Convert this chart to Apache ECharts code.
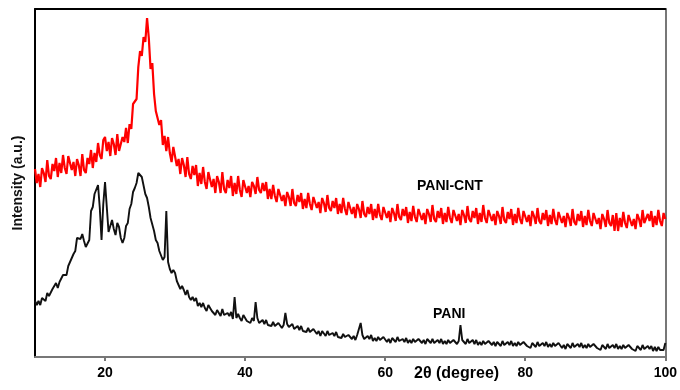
<!DOCTYPE html>
<html>
<head>
<meta charset="utf-8">
<script src="https://cdn.jsdelivr.net/npm/echarts@6/dist/echarts.min.js"></script>
<style>
  html, body { margin: 0; padding: 0; background: #fff; }
  #chart { width: 680px; height: 390px; }
</style>
</head>
<body>
<div id="chart"></div>
<script>
// scan grid: 2theta from 10 to 100 deg, 0.25 deg per sample
const startAngle = 10
const stepAngle = 0.25
const xTicks = [20, 40, 60, 80, 100]

// PANI-CNT (red), intensity a.u., one row = 2.5 deg
const paniCnt = [
  188, 174, 183, 170, 189, 184, 175, 197, 181, 178,
  193, 186, 199, 180, 194, 184, 202, 189, 183, 201,
  202, 187, 195, 181, 198, 192, 181, 203, 187, 184,
  199, 193, 207, 189, 204, 195, 214, 202, 198, 217,
  220, 206, 215, 201, 219, 213, 202, 223, 206, 204,
  220, 215, 229, 214, 233, 228, 253, 251, 258, 290,
  306, 301, 320, 315, 339, 319, 288, 294, 263, 246,
  248, 232, 237, 212, 221, 206, 220, 204, 195, 210,
  208, 191, 198, 183, 199, 192, 180, 200, 183, 178,
  191, 182, 192, 171, 184, 173, 190, 175, 168, 185,
  185, 170, 178, 164, 181, 175, 164, 185, 168, 164,
  177, 169, 181, 161, 174, 163, 181, 167, 160, 177,
  176, 164, 171, 160, 175, 171, 163, 180, 167, 164,
  174, 166, 175, 158, 168, 158, 172, 161, 155, 168,
  168, 156, 162, 151, 165, 160, 151, 168, 154, 151,
  162, 155, 164, 148, 158, 149, 164, 153, 147, 160,
  161, 149, 155, 144, 159, 154, 145, 162, 149, 146,
  156, 149, 159, 143, 153, 144, 159, 148, 142, 155,
  155, 143, 150, 139, 153, 148, 139, 156, 143, 140,
  150, 143, 153, 137, 148, 139, 153, 142, 137, 150,
  151, 139, 146, 135, 149, 144, 136, 153, 140, 137,
  148, 141, 150, 134, 145, 136, 151, 140, 135, 148,
  149, 137, 144, 133, 148, 143, 135, 152, 138, 135,
  146, 139, 149, 133, 144, 135, 150, 139, 134, 147,
  148, 136, 143, 132, 147, 142, 134, 151, 138, 135,
  146, 139, 149, 133, 144, 135, 152, 139, 134, 147,
  148, 136, 143, 132, 146, 141, 133, 150, 137, 134,
  145, 138, 148, 132, 143, 134, 149, 138, 133, 146,
  147, 135, 142, 131, 146, 141, 133, 149, 136, 133,
  144, 137, 147, 131, 142, 133, 148, 137, 132, 145,
  146, 134, 141, 130, 144, 139, 131, 148, 135, 132,
  143, 136, 146, 130, 141, 132, 147, 136, 131, 144,
  145, 133, 139, 128, 143, 138, 130, 147, 134, 131,
  142, 126, 144, 126, 139, 130, 145, 134, 129, 142,
  143, 131, 138, 128, 143, 138, 130, 147, 134, 132,
  143, 136, 146, 130, 141, 132, 147, 136, 131, 144,
  138
]

// PANI (black)
const pani = [
  56, 52, 56, 52, 59, 58, 56, 64, 61, 61,
  68, 67, 74, 69, 75, 74, 82, 81, 82, 91,
  95, 95, 103, 106, 119, 120, 118, 123, 116, 110,
  112, 117, 146, 150, 163, 165, 172, 149, 117, 153,
  175, 174, 125, 124, 137, 128, 122, 134, 130, 119,
  114, 119, 131, 134, 148, 153, 165, 169, 174, 184,
  186, 180, 178, 163, 159, 150, 139, 138, 126, 117,
  114, 106, 106, 97, 100, 146, 95, 88, 84, 87,
  84, 76, 76, 68, 71, 67, 62, 67, 60, 57,
  60, 56, 59, 51, 54, 50, 54, 49, 46, 52,
  51, 46, 48, 42, 47, 45, 41, 48, 42, 40,
  44, 41, 45, 38, 60, 39, 43, 39, 36, 42,
  40, 36, 38, 34, 39, 36, 55, 39, 34, 33,
  37, 33, 37, 32, 34, 31, 35, 31, 30, 34,
  33, 29, 32, 44, 33, 30, 28, 33, 28, 27,
  31, 27, 31, 26, 28, 25, 29, 25, 24, 28,
  27, 23, 26, 21, 26, 24, 21, 26, 22, 21,
  24, 21, 25, 20, 22, 19, 23, 20, 18, 22,
  22, 18, 21, 17, 22, 20, 34, 22, 18, 17,
  21, 18, 22, 16, 19, 16, 20, 17, 16, 20,
  19, 15, 18, 14, 19, 17, 15, 20, 16, 14,
  18, 15, 19, 14, 17, 14, 18, 15, 14, 18,
  18, 14, 17, 13, 18, 16, 14, 18, 14, 13,
  17, 14, 18, 13, 16, 13, 17, 14, 13, 17,
  17, 13, 16, 32, 17, 15, 13, 18, 14, 13,
  17, 13, 17, 12, 15, 12, 16, 13, 12, 16,
  16, 12, 15, 11, 15, 13, 11, 16, 12, 11,
  15, 12, 16, 11, 14, 11, 15, 12, 11, 15,
  15, 11, 13, 9, 14, 12, 10, 15, 11, 10,
  14, 11, 15, 10, 13, 10, 14, 11, 10, 14,
  14, 9, 12, 8, 13, 11, 9, 14, 10, 9,
  13, 10, 14, 9, 12, 9, 13, 10, 9, 13,
  13, 9, 11, 7, 12, 10, 8, 13, 9, 8,
  12, 9, 13, 8, 11, 8, 12, 9, 8, 12,
  12, 8, 10, 6, 11, 9, 7, 12, 8, 7,
  11, 8, 11, 6, 10, 6, 10, 7, 5, 7,
  14
]

const toPoints = arr => arr.map((v, i) => [startAngle + i * stepAngle, v])

const chart = echarts.init(document.getElementById('chart'))
const boldFont = 'Liberation Sans, Arial, sans-serif'

chart.setOption({
  animation: false,
  grid: { left: 35, right: 11, top: 9, bottom: 33 },
  xAxis: [
    {
      type: 'value',
      min: 10,
      max: 100,
      interval: 10,
      axisLine: { onZero: false, lineStyle: { color: '#777', width: 2 } },
      axisTick: { show: true, customValues: xTicks, length: 4, lineStyle: { color: '#777', width: 2 } },
      axisLabel: {
        customValues: xTicks,
        color: '#000',
        fontSize: 14,
        fontWeight: 'bold',
        fontFamily: boldFont,
        margin: 9
      },
      splitLine: { show: false }
    },
    {
      type: 'value',
      position: 'top',
      min: 10,
      max: 100,
      axisLine: { show: true, onZero: false, lineStyle: { color: '#000', width: 2 } },
      axisTick: { show: false },
      axisLabel: { show: false },
      splitLine: { show: false }
    }
  ],
  yAxis: [
    {
      type: 'value',
      min: 0,
      max: 348,
      name: 'Intensity (a.u.)',
      nameLocation: 'middle',
      nameGap: 10,
      nameTextStyle: { color: '#111', fontSize: 14, fontWeight: 'bold', fontFamily: boldFont },
      axisLine: { show: true, onZero: false, lineStyle: { color: '#000', width: 2 } },
      axisTick: { show: false },
      axisLabel: { show: false },
      splitLine: { show: false }
    },
    {
      type: 'value',
      position: 'right',
      min: 0,
      max: 348,
      axisLine: { show: true, onZero: false, lineStyle: { color: '#777', width: 2 } },
      axisTick: { show: false },
      axisLabel: { show: false },
      splitLine: { show: false }
    }
  ],
  graphic: [
    {
      type: 'text', left: 414, top: 366,
      style: { text: '2θ (degree)', fill: '#000', font: 'bold 16px ' + boldFont }
    },
    {
      type: 'text', left: 417, top: 179,
      style: { text: 'PANI-CNT', fill: '#000', font: 'bold 14px ' + boldFont }
    },
    {
      type: 'text', left: 433, top: 307,
      style: { text: 'PANI', fill: '#000', font: 'bold 14px ' + boldFont }
    }
  ],
  series: [
    {
      name: 'PANI',
      type: 'line',
      showSymbol: false,
      lineStyle: { color: '#111', width: 1.9 },
      data: toPoints(pani)
    },
    {
      name: 'PANI-CNT',
      type: 'line',
      showSymbol: false,
      lineStyle: { color: '#ff0000', width: 2.2 },
      data: toPoints(paniCnt)
    }
  ]
})
</script>
</body>
</html>
